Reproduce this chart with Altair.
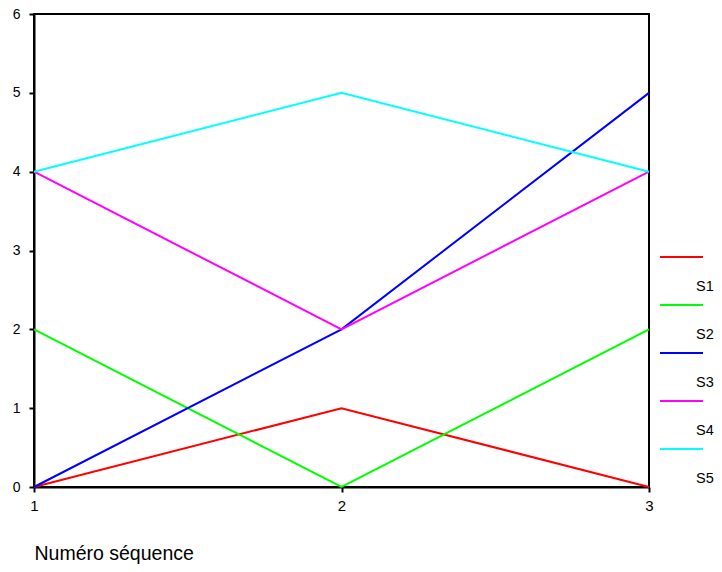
import altair as alt
import pandas as pd

# ---- data ----
seq = [1, 2, 3]
series = ["S1", "S2", "S3", "S4", "S5"]
colors = ["#FF0000", "#00FF00", "#0000FF", "#FF00FF", "#00FFFF"]
s1 = [0, 1, 0]
s2 = [2, 0, 2]
s3 = [0, 2, 5]
s4 = [4, 2, 4]
s5 = [4, 5, 4]
y_ticks = [0, 1, 2, 3, 4, 5, 6]

values = [s1, s2, s3, s4, s5]
rows = []
for name, vals in zip(series, values):
    for x, v in zip(seq, vals):
        rows.append({"seq": x, "val": v, "series": name})
df = pd.DataFrame(rows)
leg = pd.DataFrame({"series": series})

color_scale = alt.Scale(domain=series, range=colors)

lines = alt.Chart(df).mark_line(strokeWidth=2, clip=False).encode(
    x=alt.X(
        "seq:O",
        scale=alt.Scale(type="point", domain=seq, padding=0),
        axis=alt.Axis(
            title="Numéro séquence", labelAngle=0,
            labelFontSize=15, labelPadding=6,
            labelOverlap=False, labelFlush=False,
            titleX=0, titleY=72, titleAlign="left", titleBaseline="alphabetic",
            titleFontSize=19.5, titleFontWeight="normal", titleColor="black",
            titleFont="Liberation Sans",
        ),
    ),
    y=alt.Y(
        "val:Q",
        scale=alt.Scale(domain=[0, 6], nice=False),
        axis=alt.Axis(values=y_ticks, title=None, labelFontSize=14,
                      labelPadding=9, labelOverlap=False, labelFlush=False),
    ),
    color=alt.Color("series:N", scale=color_scale, legend=None),
    detail="series:N",
)

leg_y = alt.Y(
    "series:N", sort=series,
    scale=alt.Scale(type="point", domain=series, range=[243, 435], padding=0),
    axis=None,
)

leg_rules = alt.Chart(leg).mark_rule(strokeWidth=2, clip=False).encode(
    x=alt.value(626),
    x2=alt.value(669),
    y=leg_y,
    color=alt.Color("series:N", scale=color_scale, legend=None),
)

leg_text = alt.Chart(leg).mark_text(
    align="left", baseline="middle", dy=30, fontSize=14.5,
    font="Liberation Sans", color="black", clip=False,
).encode(
    x=alt.value(662),
    y=leg_y,
    text="series:N",
)

legend = alt.layer(leg_rules, leg_text)

chart = (
    alt.layer(lines, legend)
    .resolve_scale(y="independent")
    .properties(
        width=615,
        height=473,
        autosize=alt.AutoSizeParams(type="none"),
        padding={"left": 26, "top": 6, "right": 65, "bottom": 77},
        background="white",
    )
    .configure_view(stroke="black", strokeWidth=2)
    .configure_axis(
        grid=False,
        domainColor="black",
        domainWidth=2,
        tickColor="black",
        tickWidth=2,
        tickSize=5,
        labelColor="black",
        labelFont="Liberation Sans",
    )
)

chart.save("out.html", embed_options={"renderer": "svg", "actions": False})
